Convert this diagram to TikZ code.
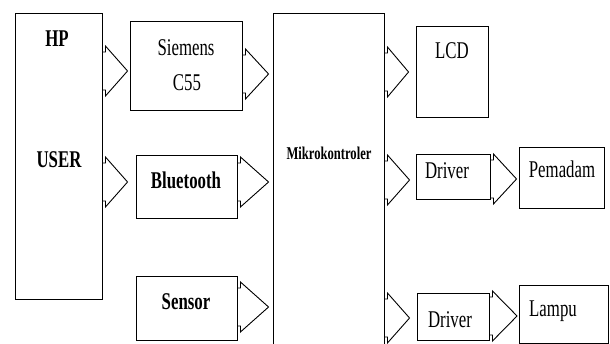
\documentclass[tikz,border=0pt]{standalone}
\usepackage{fontspec}
\setmainfont{Liberation Serif}
\usetikzlibrary{calc}
\tikzset{
  box/.style={draw=black, line width=0.9pt, inner sep=0pt},
  arrline/.style={draw=black, line width=0.9pt, line join=miter},
  txt/.style={font=\fontsize{24}{26}\selectfont, inner sep=0pt, anchor=base},
  btxt/.style={font=\fontsize{24}{26}\selectfont\bfseries, inner sep=0pt, anchor=base},
}
\newcommand{\sqz}[2][0.7]{\scalebox{#1}[1]{#2}}
% #1 from node, #2 to node, #3 y of centre, #4 gap before target
\newcommand{\blockarrow}[4]{%
  \draw[arrline] let \p1=(#1.east), \p2=(#2.west), \p3=(0,#3) in
    (\x1,{\y3+19pt}) -- ({\x1+3pt},{\y3+19pt}) -- ({\x1+3pt},{\y3+25pt})
    -- ({\x2-#4pt},\y3) -- ({\x1+3pt},{\y3-25pt}) -- ({\x1+3pt},{\y3-19pt})
    -- (\x1,{\y3-19pt});}
\begin{document}
\begin{tikzpicture}[x=1pt,y=-1pt]
\useasboundingbox (0,0) rectangle (610,344);
\clip (0,0) rectangle (610,344);
% boxes
\node[box, minimum width=87pt, minimum height=286pt] (hp) at (58.5,156) {};
\node[box, minimum width=112pt, minimum height=89pt] (siemens) at (186,65.5) {};
\node[box, minimum width=101pt, minimum height=63pt] (bt) at (186.5,186.5) {};
\node[box, minimum width=101pt, minimum height=64pt] (sensor) at (186.5,308) {};
\node[box, minimum width=111pt, minimum height=347pt] (mikro) at (328.5,186.5) {};
\node[box, minimum width=72pt, minimum height=91pt] (lcd) at (452,71.5) {};
\node[box, minimum width=74pt, minimum height=45pt] (drv1) at (453,176.5) {};
\node[box, minimum width=85pt, minimum height=61pt] (pem) at (561.5,177.5) {};
\node[box, minimum width=72pt, minimum height=47pt] (drv2) at (453,316.5) {};
\node[box, minimum width=89pt, minimum height=58pt] (lampu) at (564,314) {};
% texts
\node[btxt] (thp) at (57,47) {\sqz{HP}};
\node[btxt] (tuser) at (59,168) {\sqz{USER}};
\node[txt] (tsie) at (186,56) {\sqz{Siemens}};
\node[txt] (tc55) at (187,91) {\sqz{C55}};
\node[btxt] (tbt) at (186,189) {\sqz{Bluetooth}};
\node[btxt] (tsen) at (186,310) {\sqz{Sensor}};
\node[font=\fontsize{18}{20}\selectfont\bfseries, inner sep=0pt, anchor=base] (tmik) at (329,160) {\sqz{Mikrokontroler}};
\node[txt] (tlcd) at (452,59) {\sqz{LCD}};
\node[txt] (tdr1) at (447,179) {\sqz{Driver}};
\node[txt] (tpem) at (562,178) {\sqz{Pemadam}};
\node[txt] (tdr2) at (450,327) {\sqz{Driver}};
\node[txt] (tlam) at (553,317) {\sqz{Lampu}};
% arrows
\blockarrow{hp}{siemens}{71}{2}
\blockarrow{hp}{bt}{182}{8}
\blockarrow{siemens}{mikro}{74}{4}
\blockarrow{bt}{mikro}{182}{4}
\blockarrow{sensor}{mikro}{307}{4}
\blockarrow{mikro}{lcd}{72}{7}
\blockarrow{mikro}{drv1}{180}{6}
\blockarrow{mikro}{drv2}{318}{7}
\blockarrow{drv1}{pem}{179}{2}
\blockarrow{drv2}{lampu}{316}{2}
\end{tikzpicture}
\end{document}
